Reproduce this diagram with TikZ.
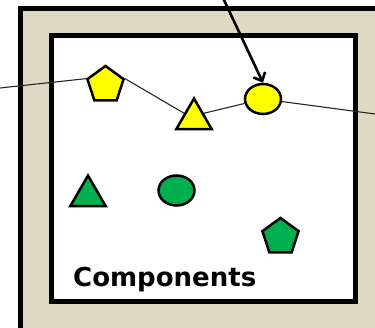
\documentclass[tikz,border=0pt]{standalone}
\usepackage{fontspec}
\newfontfamily\labelfont{DejaVu Sans}
\usetikzlibrary{shapes.geometric,arrows.meta}
\definecolor{frameback}{HTML}{DDD9C3}
\definecolor{shapeyellow}{HTML}{FFFF00}
\definecolor{shapegreen}{HTML}{00B050}

\begin{document}
\begin{tikzpicture}[x=1pt,y=-1pt,
        pent/.style={regular polygon,regular polygon sides=5,minimum size=38pt,inner sep=0pt,draw,line width=2.5pt},
        tri/.style={regular polygon,regular polygon sides=3,minimum size=41pt,inner sep=0pt,draw,line width=2.5pt},
        blob/.style={ellipse,minimum width=36pt,minimum height=30pt,inner sep=0pt,draw,line width=2.5pt},
        link/.style={line width=1.1pt,black!85}]
            \useasboundingbox (0,0) rectangle (375,328);
            \clip (0,0) rectangle (375,328);
            % frame and inner box
            \draw[line width=5pt,fill=frameback] (20,8.5) rectangle (420,331);
            \draw[line width=5pt,fill=white] (51.5,35.5) rectangle (355.5,301.5);
            % components
            \node[pent,fill=shapeyellow] (ypent) at (105.5,85) {};
            \node[tri,fill=shapeyellow] (ytri) at (194,119) {};
            \node[blob,fill=shapeyellow] (ycirc) at (263,99) {};
            \node[tri,fill=shapegreen] (gtri) at (88,196) {};
            \node[blob,fill=shapegreen] (gcirc) at (176.5,190.5) {};
            \node[pent,fill=shapegreen] (gpent) at (280.5,237) {};
            \node[anchor=base west,inner sep=0pt,font=\labelfont\bfseries\fontsize{26}{30}\selectfont] (title) at (73,287) {Components};
            % wire through the yellow ones
            \coordinate (wirein) at (0,88);
            \coordinate (wireout) at (375,114);
            \coordinate (arrowtail) at (223,-2);
            \draw[link] (wirein) -- (ypent.corner 2);
            \draw[link] (ypent.corner 5) -- (ytri.side 1);
            \draw[link] (ytri.side 3) -- (ycirc);
            \draw[link] (ycirc) -- (wireout);
            \draw[line width=2.6pt,-{Straight Barb[length=7pt,width=13pt]}] (arrowtail) -- (ycirc.north);
        \end{tikzpicture}
\end{document}
